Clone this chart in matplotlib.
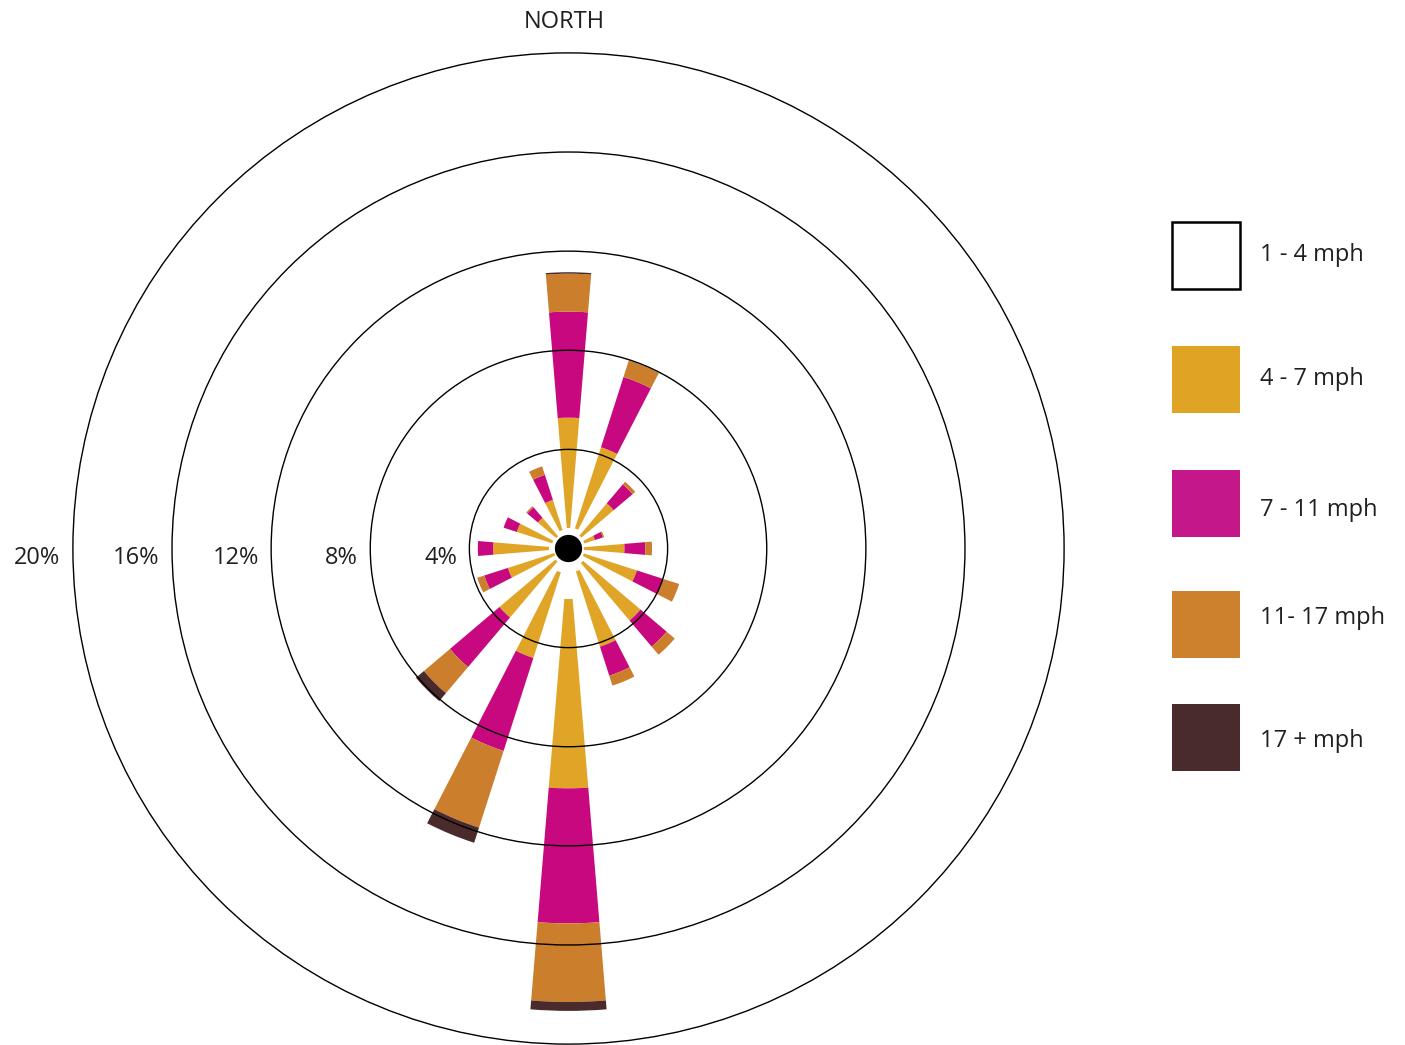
import numpy as np
import matplotlib
matplotlib.use("Agg")
import matplotlib.pyplot as plt
from matplotlib.patches import Rectangle, Circle
from matplotlib.transforms import offset_copy

plt.rcParams['font.family'] = ['Open Sans', 'DejaVu Sans']

# ---------------- data ----------------
directions = ['N', 'NNE', 'NE', 'ENE', 'E', 'ESE', 'SE', 'SSE',
              'S', 'SSW', 'SW', 'WSW', 'W', 'WNW', 'NW', 'NNW']
speed_bins = ['1 - 4 mph', '4 - 7 mph', '7 - 11 mph', '11- 17 mph', '17 + mph']
# frequency (%) of each speed class per direction
mph_1_4   = [0.83, 0.85, 0.68, 0.67, 0.62, 0.65, 0.77, 0.97,
             2.04, 1.01, 0.69, 0.60, 0.79, 0.69, 0.65, 0.78]
mph_4_7   = [4.45, 3.44, 1.71, 0.45, 1.64, 2.25, 3.04, 3.19,
             7.64, 3.63, 2.96, 1.97, 2.25, 1.50, 0.97, 1.28]
mph_7_11  = [4.28, 2.98, 1.00, 0.34, 0.84, 1.13, 1.38, 1.23,
             5.45, 3.94, 2.62, 1.00, 0.62, 0.56, 0.56, 1.06]
mph_11_17 = [1.53, 0.70, 0.14, 0.05, 0.27, 0.66, 0.43, 0.42,
             3.17, 3.25, 1.38, 0.30, 0.00, 0.00, 0.06, 0.36]
mph_17p   = [0.06, 0.00, 0.00, 0.00, 0.00, 0.00, 0.00, 0.00,
             0.36, 0.64, 0.42, 0.00, 0.00, 0.00, 0.00, 0.00]
ring_values = [4, 8, 12, 16, 20]
ring_labels = ['4%', '8%', '12%', '16%', '20%']

series = [mph_1_4, mph_4_7, mph_7_11, mph_11_17, mph_17p]
bar_colors = ['#FFFFFF', '#E0A526', '#C8087F', '#CB7E2B', '#4B2A2C']
legend_colors = ['#FFFFFF', '#E0A424', '#C4178A', '#CE812C', '#4A2B2D']
text_color = '#231F20'

# ---------------- figure ----------------
W, H = 1405, 1045
fig = plt.figure(figsize=(W / 100, H / 100), dpi=100)
fig.patch.set_facecolor('white')

cx, cy = 568.5, 548.5          # centre in pixels (from top)
px_per = 24.78                 # pixels per percent
rmax = 21.0
R = rmax * px_per
ax = fig.add_axes([(cx - R) / W, (H - cy - R) / H, 2 * R / W, 2 * R / H],
                  projection='polar')
ax.set_theta_zero_location('N')
ax.set_theta_direction(-1)
ax.set_ylim(0, rmax)
ax.axis('off')

theta = np.arange(len(directions)) * 2 * np.pi / len(directions)
bottom = np.zeros(len(directions))
for vals, col in zip(series, bar_colors):
    vals = np.asarray(vals)
    ax.bar(theta, vals, width=0.165, bottom=bottom, color=col,
           edgecolor='none', linewidth=0, zorder=1)
    bottom = bottom + vals

# rings (radius expressed through the radial limit)
r0, r1 = ax.get_ylim()
for v in ring_values:
    ax.add_artist(Circle((0.5, 0.5), 0.5 * (v - r0) / (r1 - r0),
                         transform=ax.transAxes, fill=False,
                         edgecolor='black', linewidth=1.0, zorder=3))

# centre dot
ax.add_artist(Circle((0.5, 0.5), 0.5 * 0.55 / (r1 - r0), transform=ax.transAxes,
                     facecolor='black', edgecolor='none', zorder=4))

# ring labels (west side)
lab_tr = offset_copy(ax.transData, fig=fig, x=0, y=-15, units='dots')
for v, lab in zip(ring_values, ring_labels):
    ax.text(3 * np.pi / 2, v + 0.5, lab, ha='right', va='baseline',
            fontsize=17, color=text_color, transform=lab_tr)

# title
fig.text(564 / W, 1 - 27.5 / H, 'NORTH', ha='center', va='baseline',
         fontsize=17, color=text_color)

# legend
box_tops = [222, 346, 470, 591, 704]
text_base = [261, 385, 516, 624, 747]
bx, bw, bh = 1172, 68, 67
for i, (lab, col) in enumerate(zip(speed_bins, legend_colors)):
    ec = 'black' if i == 0 else 'none'
    lw = 1.8 if i == 0 else 0
    fig.add_artist(Rectangle((bx / W, 1 - (box_tops[i] + bh) / H), bw / W, bh / H,
                             transform=fig.transFigure, facecolor=col,
                             edgecolor=ec, linewidth=lw))
    fig.text(1260 / W, 1 - text_base[i] / H, lab, ha='left', va='baseline',
             fontsize=17, color=text_color)

fig.savefig('out.png', dpi=100, facecolor='white')
